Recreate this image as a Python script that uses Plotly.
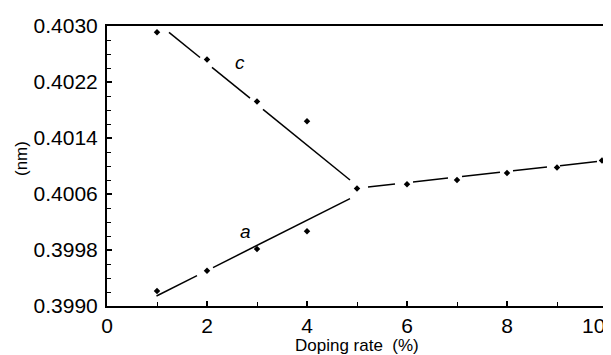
import plotly.graph_objects as go

# measured points
c_x = [1, 2, 3, 4, 5]
c_y = [0.40291, 0.40252, 0.40192, 0.40164, 0.40068]
a_x = [1, 2, 3, 4]
a_y = [0.399214, 0.399504, 0.399814, 0.400067]
hi_x = [6, 7, 8, 9, 9.9]
hi_y = [0.40074, 0.40080, 0.40090, 0.40098, 0.40108]

# hand-drawn fit line segments (gaps near markers)
c_fit_x = [1.24, 1.86, None, 2.10, 2.86, None, 3.12, 4.86]
c_fit_y = [0.40291, 0.40255, None, 0.40241, 0.40197, None, 0.40181, 0.40080]
a_fit_x = [0.99, 1.80, None, 2.12, 4.86]
a_fit_y = [0.399143, 0.399434, None, 0.399549, 0.400533]
hi_fit_x = [5.22, 5.76, None, 6.12, 6.82, None, 7.10, 7.86, None, 8.12, 8.80, None, 9.06, 9.80]
hi_fit_y = [0.40070, 0.400743, None, 0.400772, 0.400827, None, 0.400849, 0.400910, None,
            0.400931, 0.400985, None, 0.401005, 0.401064]

x_ticks = [0, 2, 4, 6, 8, 10]
y_ticks = [0.3990, 0.3998, 0.4006, 0.4014, 0.4022, 0.4030]
y_labels = ["0.3990", "0.3998", "0.4006", "0.4014", "0.4022", "0.4030"]

fig = go.Figure()
line_style = dict(color="black", width=1.5)
for fx, fy in [(c_fit_x, c_fit_y), (a_fit_x, a_fit_y), (hi_fit_x, hi_fit_y)]:
    fig.add_trace(go.Scatter(x=fx, y=fy, mode="lines", line=line_style,
                             connectgaps=False, hoverinfo="skip"))
for px, py in [(c_x, c_y), (a_x, a_y), (hi_x, hi_y)]:
    fig.add_trace(go.Scatter(x=px, y=py, mode="markers", cliponaxis=False,
                             marker=dict(symbol="diamond", size=5, color="black")))

fig.add_annotation(x=2.66, y=0.40248, text="<i>c</i>", showarrow=False,
                   font=dict(size=19, color="black", family="Liberation Sans"))
fig.add_annotation(x=2.76, y=0.40007, text="<i>a</i>", showarrow=False,
                   font=dict(size=19, color="black", family="Liberation Sans"))

font = dict(family="Liberation Sans", size=21, color="black")

# last x tick label, right-aligned so it stays inside the page
fig.add_annotation(x=1, xref="paper", y=0, yref="paper", xshift=0, yshift=-6,
                   xanchor="right", yanchor="top", showarrow=False,
                   text=str(x_ticks[-1]), font=font)

# axis titles
fig.add_annotation(x=0.5, xref="paper", y=0, yref="paper", yshift=-28,
                   xanchor="center", yanchor="top", showarrow=False,
                   text="Doping rate  (%)",
                   font=dict(size=17, color="black", family="Liberation Sans"))
fig.add_annotation(x=0, xref="paper", y=0.525, yref="paper", xshift=-86,
                   xanchor="center", yanchor="middle", showarrow=False, textangle=-90,
                   text="(nm)",
                   font=dict(size=17, color="black", family="Liberation Sans"))

fig.update_layout(
    width=603, height=347,
    margin=dict(l=99, r=4, t=18, b=49),
    paper_bgcolor="white", plot_bgcolor="white",
    showlegend=False,
    font=font,
    xaxis=dict(range=[0, 10], tickvals=x_ticks, ticktext=[str(v) for v in x_ticks[:-1]] + [""],
               ticks="inside", ticklen=5, tickwidth=1.5, tickcolor="black",
               minor=dict(dtick=1, ticks="inside", ticklen=4, tickcolor="black", tickwidth=1.2),
               showline=True, linecolor="black", linewidth=2, mirror=True,
               showgrid=False, zeroline=False, tickfont=font, automargin=False),
    yaxis=dict(range=[0.3990, 0.4030], tickvals=y_ticks, ticktext=y_labels,
               ticks="inside", ticklen=5, tickwidth=1.5, tickcolor="black",
               minor=dict(dtick=0.0002, tick0=0.3990, ticks="inside", ticklen=4,
                          tickcolor="black", tickwidth=1.2),
               showline=True, linecolor="black", linewidth=2, mirror=True,
               showgrid=False, zeroline=False, tickfont=font, automargin=False,
               ticklabelstandoff=3),
)

fig.write_html("out.html")
